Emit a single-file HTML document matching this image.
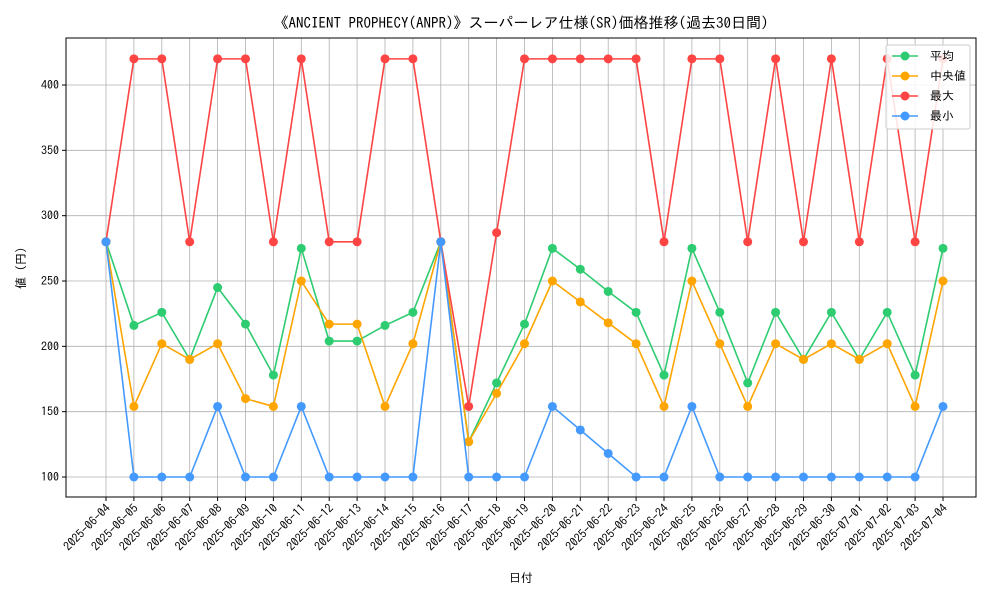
<!DOCTYPE html>
<html><head><meta charset="utf-8"><style>
body{margin:0;background:#fff;font-family:"IPAGothic","Noto Sans CJK JP",sans-serif;}
svg text{font-family:"IPAGothic","Noto Sans CJK JP",sans-serif;}
</style></head><body>
<svg id="chart" width="1000" height="600">
<rect width="1000" height="600" fill="#fff"/>
<text x="521" y="28" font-size="15" text-anchor="middle">《ANCIENT PROPHECY(ANPR)》スーパーレア仕様(SR)価格推移(過去30日間)</text>
<g id="grid"></g><g id="axes"></g><g id="series"></g>
<rect x="66" y="38" width="910" height="459" fill="none" stroke="#000" stroke-width="1"/>
<text x="521" y="582" font-size="12" text-anchor="middle">日付</text>
<text transform="translate(25,268) rotate(-90)" font-size="12" text-anchor="middle">値 (円)</text>
<g id="legend">
<rect x="886" y="45" width="84" height="84" fill="#fff" fill-opacity="0.85" stroke="#ccc" rx="2"/>
</g>
</svg>
<script>
const dates=["2025-06-04","2025-06-05","2025-06-06","2025-06-07","2025-06-08","2025-06-09","2025-06-10","2025-06-11","2025-06-12","2025-06-13","2025-06-14","2025-06-15","2025-06-16","2025-06-17","2025-06-18","2025-06-19","2025-06-20","2025-06-21","2025-06-22","2025-06-23","2025-06-24","2025-06-25","2025-06-26","2025-06-27","2025-06-28","2025-06-29","2025-06-30","2025-07-01","2025-07-02","2025-07-03","2025-07-04"];
const avgValues=[280,216,226,190,245,217,178,275,204,204,216,226,280,127,172,217,275,259,242,226,178,275,226,172,226,190,226,190,226,178,275];
const medianValues=[280,154,202,190,202,160,154,250,217,217,154,202,280,127,164,202,250,234,218,202,154,250,202,154,202,190,202,190,202,154,250];
const maxValues=[280,420,420,280,420,420,280,420,280,280,420,420,280,154,287,420,420,420,420,420,280,420,420,280,420,280,420,280,420,280,420];
const minValues=[280,100,100,100,154,100,100,154,100,100,100,100,280,100,100,100,154,136,118,100,100,154,100,100,100,100,100,100,100,100,154];
const yTicks=[100,150,200,250,300,350,400];
const seriesNames=["平均","中央値","最大","最小"];
const colors=["#2ecc71","#ffa500","#ff4444","#4499ff"];
const NS="http://www.w3.org/2000/svg";
const xPos=i=>106+i*(943-106)/(dates.length-1);
const yPos=v=>477-(v-100)*(477-85)/300;
function mk(tag,attrs,parent){const e=document.createElementNS(NS,tag);for(const k in attrs)e.setAttribute(k,attrs[k]);parent.appendChild(e);return e;}
const grid=document.getElementById('grid'),axes=document.getElementById('axes'),ser=document.getElementById('series'),leg=document.getElementById('legend');
dates.forEach((d,i)=>{const x=xPos(i);
 const g=mk('line',{x1:x,x2:x,y1:38,y2:497,stroke:'#b0b0b0','stroke-width':0.8},grid);
 
 
 mk('line',{x1:x,x2:x,y1:497,y2:501,stroke:'#000'},axes);
 const t=mk('text',{x:0,y:0,'font-size':12,'text-anchor':'end',transform:`translate(${x+5},${509}) rotate(-45)`},axes);
 t.textContent=d;
 
 
});
yTicks.forEach(v=>{const y=yPos(v);
 const g=mk('line',{x1:66,x2:976,y1:y,y2:y,stroke:'#b0b0b0','stroke-width':0.8},grid);
 
 
 mk('line',{x1:62,x2:66,y1:y,y2:y,stroke:'#000'},axes);
 const t=mk('text',{x:59,y:y+4,'font-size':12,'text-anchor':'end'},axes);
 t.textContent=v;
 
 
});
[avgValues,medianValues,maxValues,minValues].forEach((vals,s)=>{
 const g=mk('g',{},ser);
 
 
 mk('polyline',{points:vals.map((v,i)=>xPos(i)+','+yPos(v)).join(' '),fill:'none',stroke:colors[s],'stroke-width':1.6},g);
 vals.forEach((v,i)=>{const c=mk('circle',{cx:xPos(i),cy:yPos(v),r:4.5,fill:colors[s]},g);
  
  });
 const ly=56+s*20;
 const e=mk('g',{},leg);
 
 
 mk('line',{x1:892,x2:918,y1:ly,y2:ly,stroke:colors[s],'stroke-width':1.6},e);
 mk('circle',{cx:905,cy:ly,r:4.5,fill:colors[s]},e);
 const t=mk('text',{x:930,y:ly+4,'font-size':12},e);t.textContent=seriesNames[s];
});
</script>
</body></html>
